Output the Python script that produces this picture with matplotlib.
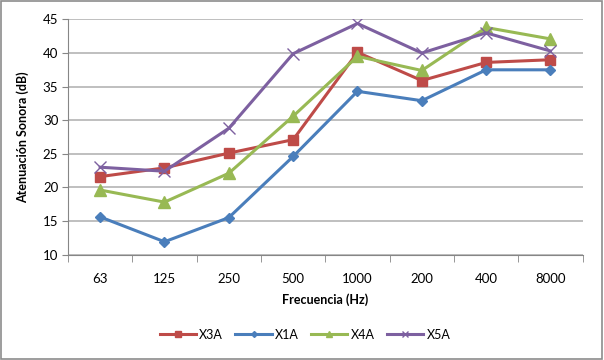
import numpy as np
import matplotlib.pyplot as plt
from matplotlib.patches import Rectangle

plt.rcParams['font.family'] = ['Lato', 'DejaVu Sans']

# data
categories = ['63', '125', '250', '500', '1000', '200', '400', '8000']
x3a = [21.6, 22.9, 25.1, 27.1, 40.1, 35.9, 38.6, 39.0]
x1a = [15.6, 11.9, 15.5, 24.6, 34.3, 32.9, 37.5, 37.5]
x4a = [19.6, 17.8, 22.1, 30.6, 39.5, 37.4, 43.8, 42.1]
x5a = [23.0, 22.4, 28.8, 39.9, 44.4, 40.0, 43.0, 40.3]

fig = plt.figure(figsize=(6.04, 3.6), dpi=100)
fig.patches.append(Rectangle((0.002, 0.003), 0.995, 0.993, transform=fig.transFigure,
                             fill=False, edgecolor='#8c8c8c', linewidth=1.2))
ax = fig.add_axes([0.1126, 0.293, 0.852, 0.653])

x = np.arange(len(categories))
ax.plot(x, x3a, color='#BE4B48', marker='s', markersize=7, linewidth=2.2, label='X3A')
ax.plot(x, x1a, color='#4A7EBB', marker='D', markersize=5, linewidth=2.2, label='X1A')
ax.plot(x, x4a, color='#98B954', marker='^', markersize=8, linewidth=2.2, label='X4A')
ax.plot(x, x5a, color='#7D60A0', marker='x', markersize=8, markeredgewidth=1.0,
        linewidth=2.2, label='X5A')

ax.set_xlim(-0.5, len(categories) - 0.5)
ax.set_ylim(10, 45)
ax.set_yticks(range(10, 46, 5))
ax.set_xticks(x)
ax.set_xticklabels(categories)
ax.set_xticks(np.arange(-0.5, len(categories), 1), minor=True)
ax.tick_params(axis='x', which='major', length=0, pad=13, labelsize=9.5)
ax.tick_params(axis='x', which='minor', length=5, color='#868686', direction='out')
ax.tick_params(axis='y', length=4, color='#868686', labelsize=9.5, pad=3)

ax.grid(axis='y', color='#b4b4b4', linewidth=1.2)
ax.set_axisbelow(True)
for s in ['top', 'right']:
    ax.spines[s].set_visible(False)
ax.spines['left'].set_color('#868686')
ax.spines['bottom'].set_color('#868686')

ax.set_xlabel('Frecuencia (Hz)', fontweight='bold', fontsize=9, labelpad=6)
ax.set_ylabel('Atenuación Sonora (dB)', fontweight='bold', fontsize=9, labelpad=10)

fig.legend(loc='center', bbox_to_anchor=(0.505, 0.07), ncol=4, frameon=False,
           fontsize=9, handlelength=2.9, handletextpad=0.25, columnspacing=1.0,
           markerscale=0.6)

plt.savefig('out.png', dpi=100)
